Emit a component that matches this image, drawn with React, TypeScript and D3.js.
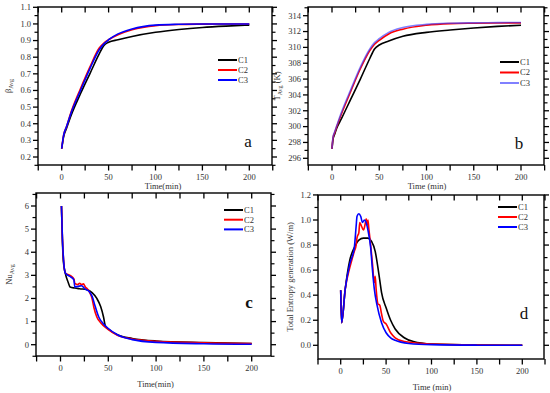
import * as d3 from "d3";

// ---- data ----
const seriesNames = ["C1", "C2", "C3"];

const betaT = [0, 2, 5, 10, 20, 30, 40, 45, 50, 60, 75, 100, 125, 150, 175, 200];
const betaC1 = [0.25, 0.32, 0.37, 0.45, 0.58, 0.7, 0.82, 0.87, 0.89, 0.905, 0.925, 0.95, 0.967, 0.979, 0.987, 0.993];
const betaC2 = [0.25, 0.33, 0.38, 0.47, 0.61, 0.74, 0.855, 0.885, 0.905, 0.935, 0.965, 0.99, 0.997, 0.999, 1.0, 1.0];
const betaC3 = [0.25, 0.33, 0.38, 0.465, 0.6, 0.73, 0.845, 0.88, 0.905, 0.94, 0.97, 0.993, 0.998, 1.0, 1.0, 1.0];

const tempT = [0, 1, 3, 5, 10, 20, 30, 40, 45, 50, 60, 75, 100, 125, 150, 175, 200];
const tempC1 = [297.2, 298.3, 299.1, 299.8, 301.0, 303.5, 306.0, 308.6, 309.8, 310.3, 310.8, 311.4, 311.9, 312.2, 312.45, 312.65, 312.8];
const tempC2 = [297.2, 298.5, 299.3, 300.0, 301.6, 304.5, 307.3, 309.6, 310.4, 310.9, 311.7, 312.3, 312.8, 313.0, 313.05, 313.08, 313.1];
const tempC3 = [297.2, 298.6, 299.4, 300.1, 301.8, 304.7, 307.5, 309.8, 310.6, 311.1, 311.9, 312.5, 312.9, 313.05, 313.1, 313.12, 313.15];

const nuC1T = [1, 2, 3, 5, 8, 10, 15, 20, 28, 33, 38, 42, 45, 47, 50, 60, 75, 100, 150, 200];
const nuC1 = [6.0, 4.5, 3.6, 3.1, 2.7, 2.5, 2.45, 2.42, 2.38, 2.25, 2.0, 1.65, 1.2, 0.8, 0.68, 0.42, 0.27, 0.16, 0.09, 0.05];
const nuC2T = [1, 2, 3, 5, 10, 14, 15, 18, 20, 22, 24, 26, 28, 30, 33, 35, 38, 42, 50, 60, 75, 100, 150, 200];
const nuC2 = [6.0, 4.6, 3.8, 3.1, 3.0, 2.85, 2.65, 2.6, 2.66, 2.6, 2.63, 2.5, 2.42, 2.3, 2.0, 1.6, 1.2, 0.95, 0.65, 0.4, 0.25, 0.15, 0.08, 0.05];
const nuC3T = [1, 2, 3, 5, 10, 14, 15, 18, 22, 26, 30, 33, 36, 40, 45, 50, 60, 75, 100, 150, 200];
const nuC3 = [6.0, 4.6, 3.8, 3.1, 2.95, 2.8, 2.5, 2.52, 2.55, 2.4, 2.3, 2.1, 1.7, 1.2, 0.9, 0.7, 0.42, 0.22, 0.1, 0.04, 0.02];

const sC1T = [0, 1, 5, 10, 15, 20, 25, 30, 34, 38, 41, 43, 45, 50, 55, 60, 70, 80, 100, 150, 200];
const sC1 = [0.44, 0.18, 0.45, 0.68, 0.78, 0.84, 0.855, 0.855, 0.83, 0.75, 0.62, 0.52, 0.42, 0.3, 0.2, 0.13, 0.06, 0.03, 0.01, 0.002, 0.0];
const sC2T = [0, 1, 5, 10, 13, 15, 17, 18, 20, 21, 23, 25, 27, 28, 29, 30, 31, 33, 35, 37, 38, 39, 41, 43, 45, 47, 50, 55, 60, 70, 100, 150, 200];
const sC2 = [0.44, 0.18, 0.45, 0.62, 0.7, 0.75, 0.8, 0.86, 0.9, 0.98, 0.95, 0.92, 0.97, 1.01, 0.96, 1.0, 0.93, 0.8, 0.65, 0.5, 0.55, 0.45, 0.33, 0.32, 0.25, 0.19, 0.17, 0.1, 0.06, 0.03, 0.01, 0.002, 0.0];
const sC3T = [0, 1, 5, 10, 15, 17, 18, 20, 22, 24, 26, 28, 30, 33, 35, 37, 40, 45, 50, 55, 60, 75, 100, 150, 200];
const sC3 = [0.44, 0.18, 0.45, 0.65, 0.78, 0.95, 1.03, 1.05, 1.03, 0.98, 1.0, 0.98, 0.92, 0.78, 0.6, 0.45, 0.32, 0.18, 0.1, 0.06, 0.04, 0.015, 0.005, 0.001, 0.0];

const xTicks = [-25, 0, 25, 50, 75, 100, 125, 150, 175, 200, 225];
const xLabels = [0, 50, 100, 150, 200];

const colors = ["#000000", "#ff0000", "#0000ff"];

type Series = { t: number[]; v: number[] };

type PanelSpec = {
  frame: { l: number; r: number; t: number; b: number };
  x0: number; x200: number;
  yDom: [number, number]; yRange: [number, number];
  yMajor: number[]; yMinor: number[]; yFmt: (v: number) => string;
  series: Series[];
  xTitle: string; xTitleDy: number; xTitleDx: number;
  yTitle: JSX.Element;
  yTitleX: number;
  letter: string; letterX: number; letterY: number; letterBold?: boolean;
  legend: { x: number; y: number; dy: number };
  c3Color?: string;
};

const font = "'Liberation Serif', 'Times New Roman', serif";

function range(a: number, b: number, s: number) {
  const out: number[] = [];
  for (let v = a; v <= b + 1e-9; v += s) out.push(+v.toFixed(4));
  return out;
}

const Panel = ({ p }: { p: PanelSpec }) => {
  const { frame } = p;
  const x = d3.scaleLinear().domain([0, 200]).range([p.x0, p.x200]);
  const y = d3.scaleLinear().domain(p.yDom).range(p.yRange);
  const line = d3.line<[number, number]>().x(d => x(d[0])).y(d => y(d[1])).curve(d3.curveMonotoneX);
  const inY = (v: number) => y(v) >= frame.t - 0.5 && y(v) <= frame.b + 0.5;
  const inX = (v: number) => x(v) >= frame.l - 1 && x(v) <= frame.r + 1;
  const xc = (frame.l + frame.r) / 2;
  return (
    <g>
      {p.series.map((s, i) => (
        <path key={i}
          d={line(s.t.map((t, k) => [t, s.v[k]] as [number, number])) || ""}
          fill="none"
          stroke={i === 2 && p.c3Color ? p.c3Color : colors[i]}
          strokeWidth={1.6}
          strokeLinejoin="round" />
      ))}
      <rect x={frame.l} y={frame.t} width={frame.r - frame.l} height={frame.b - frame.t}
        fill="none" stroke="#000" strokeWidth={1.4} />
      {/* x ticks: bottom outward, top inward */}
      {xTicks.filter(inX).map(v => (
        <g key={v}>
          <line x1={x(v)} x2={x(v)} y1={frame.b} y2={frame.b + 5.5} stroke="#000" strokeWidth={1.3} />
          <line x1={x(v)} x2={x(v)} y1={frame.t} y2={frame.t + 5.5} stroke="#000" strokeWidth={1.3} />
        </g>
      ))}
      {xLabels.map(v => (
        <text key={v} x={x(v)} y={frame.b + 15} textAnchor="middle" fontSize={8.5} fontFamily={font} fill="#333">{v}</text>
      ))}
      <text x={xc + p.xTitleDx} y={frame.b + p.xTitleDy} textAnchor="middle" fontSize={8.5} fontFamily={font} fill="#333">{p.xTitle}</text>
      {/* y ticks: left and right outward */}
      {p.yMajor.filter(inY).map(v => (
        <g key={"M" + v}>
          <line x1={frame.l - 5} x2={frame.l} y1={y(v)} y2={y(v)} stroke="#000" strokeWidth={1.3} />
          <line x1={frame.r} x2={frame.r + 5} y1={y(v)} y2={y(v)} stroke="#000" strokeWidth={1.3} />
          <text x={frame.l - 7} y={y(v)} dy="0.33em" textAnchor="end" fontSize={8.5} fontFamily={font} fill="#333">{p.yFmt(v)}</text>
        </g>
      ))}
      {p.yMinor.filter(inY).map(v => (
        <g key={"m" + v}>
          <line x1={frame.l - 3.5} x2={frame.l} y1={y(v)} y2={y(v)} stroke="#000" strokeWidth={1.2} />
          <line x1={frame.r} x2={frame.r + 3.5} y1={y(v)} y2={y(v)} stroke="#000" strokeWidth={1.2} />
        </g>
      ))}
      <text transform={`translate(${p.yTitleX},${(frame.t + frame.b) / 2}) rotate(-90)`}
        textAnchor="middle" fontSize={8.5} fontFamily={font} fill="#333">{p.yTitle}</text>
      <text x={p.letterX} y={p.letterY} dy="0.35em" textAnchor="middle" fontSize={17}
        fontWeight={p.letterBold ? "bold" : "normal"} fontFamily={font} fill="#111">{p.letter}</text>
      {seriesNames.map((n, i) => (
        <g key={n}>
          <line x1={p.legend.x} x2={p.legend.x + 19} y1={p.legend.y + i * p.legend.dy} y2={p.legend.y + i * p.legend.dy}
            stroke={i === 2 && p.c3Color ? p.c3Color : colors[i]} strokeWidth={2} />
          <text x={p.legend.x + 20} y={p.legend.y + i * p.legend.dy} dy="0.35em" fontSize={8.5} fontFamily={font} fill="#333">{n}</text>
        </g>
      ))}
    </g>
  );
};

const sub = (main: string, s: string, tail = "") => (
  <>
    {main}
    <tspan fontSize={6} dy={2}>{s}</tspan>
    <tspan dy={-2}>{tail}</tspan>
  </>
);

const panels: PanelSpec[] = [
  {
    frame: { l: 38, r: 272, t: 7, b: 165 },
    x0: 61.7, x200: 249.3,
    yDom: [0.2, 1.1], yRange: [157, 7.3],
    yMajor: range(0.2, 1.1, 0.1), yMinor: range(0.15, 1.05, 0.1), yFmt: d3.format(".1f"),
    series: [{ t: betaT, v: betaC1 }, { t: betaT, v: betaC2 }, { t: betaT, v: betaC3 }],
    xTitle: "Time(min)", xTitleDy: 24, xTitleDx: 8, yTitle: sub("β", "Avg"), yTitleX: 11,
    letter: "a", letterX: 248, letterY: 141,
    legend: { x: 218, y: 60, dy: 10 },
  },
  {
    frame: { l: 308, r: 544, t: 7, b: 165 },
    x0: 332, x200: 521,
    yDom: [296, 314], yRange: [158.3, 15.7],
    yMajor: range(296, 314, 2), yMinor: range(295, 315, 2), yFmt: d3.format("d"),
    series: [{ t: tempT, v: tempC1 }, { t: tempT, v: tempC2 }, { t: tempT, v: tempC3 }],
    xTitle: "Time (min)", xTitleDy: 24, xTitleDx: 1, yTitle: sub("T", "Avg", " (K)"), yTitleX: 280,
    letter: "b", letterX: 519, letterY: 143,
    legend: { x: 500, y: 62, dy: 10.5 },
    c3Color: "rgba(60,60,255,0.65)",
  },
  {
    frame: { l: 36, r: 271, t: 193, b: 356 },
    x0: 60.5, x200: 251.7,
    yDom: [0, 6], yRange: [344.7, 206],
    yMajor: range(0, 6, 1), yMinor: range(-0.5, 6.5, 1), yFmt: d3.format("d"),
    series: [{ t: nuC1T, v: nuC1 }, { t: nuC2T, v: nuC2 }, { t: nuC3T, v: nuC3 }],
    xTitle: "Time(min)", xTitleDy: 31, xTitleDx: 2, yTitle: sub("Nu", "Avg"), yTitleX: 12,
    letter: "c", letterX: 249, letterY: 302, letterBold: true,
    legend: { x: 224, y: 210, dy: 9.7 },
  },
  {
    frame: { l: 318, r: 544, t: 195, b: 359 },
    x0: 340.7, x200: 522.3,
    yDom: [0, 1], yRange: [345.3, 220],
    yMajor: range(0, 1.2, 0.2), yMinor: range(0.1, 1.1, 0.2), yFmt: d3.format(".1f"),
    series: [{ t: sC1T, v: sC1 }, { t: sC2T, v: sC2 }, { t: sC3T, v: sC3 }],
    xTitle: "Time (min)", xTitleDy: 31, xTitleDx: 1, yTitle: <>Total Entropy generation (W/m)</>, yTitleX: 293,
    letter: "d", letterX: 524, letterY: 313,
    legend: { x: 498, y: 207, dy: 10 },
  },
];

export default function App() {
  return (
    <svg width={550} height={393} style={{ position: "absolute", left: 0, top: 0, background: "#fff" }}>
      {panels.map((p, i) => <Panel key={i} p={p} />)}
    </svg>
  );
}
